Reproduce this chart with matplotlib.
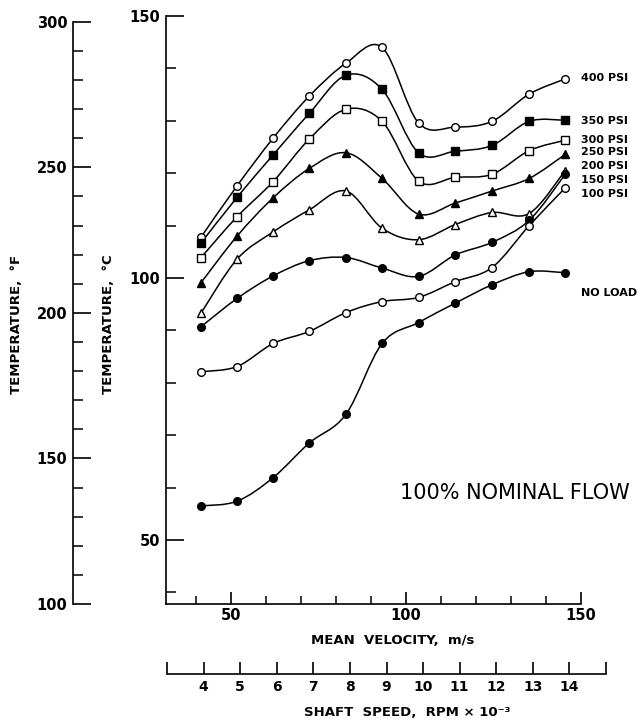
import numpy as np
import matplotlib.pyplot as plt
from matplotlib.path import Path
from matplotlib.patches import PathPatch
from matplotlib.ticker import MultipleLocator

# shaft speed (RPM x 10^-3) and mean velocity (m/s) of the test points
shaft_speed = [4, 5, 6, 7, 8, 9, 10, 11, 12, 13, 14]
velocity = [41.5, 51.8, 62.1, 72.4, 82.9, 93.2, 103.6, 114.1, 124.6, 135.2, 145.5]

# temperatures in deg C
t_400 = [107.8, 117.6, 126.7, 134.7, 141.0, 144.0, 129.6, 128.8, 129.9, 135.1, 138.0]
t_350 = [106.7, 115.4, 123.5, 131.4, 138.7, 136.0, 123.9, 124.2, 125.3, 129.9, 130.1]
t_300 = [103.9, 111.7, 118.4, 126.5, 132.2, 129.9, 118.5, 119.2, 119.8, 124.3, 126.3]
t_250 = [99.1, 108.0, 115.3, 120.9, 123.9, 119.0, 112.2, 114.3, 116.6, 119.0, 123.6]
t_200 = [93.3, 103.6, 108.8, 113.0, 116.6, 109.5, 107.3, 110.2, 112.5, 112.3, 120.5]
t_150 = [90.7, 96.1, 100.4, 103.3, 103.9, 101.9, 100.3, 104.4, 106.8, 111.0, 119.8]
t_100 = [82.1, 83.1, 87.5, 89.8, 93.4, 95.5, 96.3, 99.3, 102.0, 110.0, 117.2]
t_noload = [56.5, 57.4, 61.9, 68.5, 74.0, 87.5, 91.5, 95.2, 98.7, 101.2, 101.0]

series = [t_400, t_350, t_300, t_250, t_200, t_150, t_100, t_noload]
markers = ['o', 's', 's', '^', '^', 'o', 'o', 'o']
filled = [False, True, False, True, False, True, False, True]
labels = ['400 PSI', '350 PSI', '300 PSI', '250 PSI', '200 PSI', '150 PSI', '100 PSI', 'NO LOAD']
label_y = [78, 121, 140, 152, 166, 180, 194, 293]  # pixel rows of the end labels

W, H = 643, 724
fig = plt.figure(figsize=(W / 100, H / 100), dpi=100)
fig.patch.set_facecolor('white')

c_lim = (37.78, 150)
ax_l, ax_r, ax_t, ax_b = 166, 581, 16, 604
ax = fig.add_axes([ax_l / W, 1 - ax_b / H, (ax_r - ax_l) / W, (ax_b - ax_t) / H])
ax.set_xlim(31.5, 150)
ax.set_ylim(*c_lim)
for s in ['top', 'right']:
    ax.spines[s].set_visible(False)
for s in ['left', 'bottom']:
    ax.spines[s].set_linewidth(1.2)
ax.xaxis.set_major_locator(MultipleLocator(50))
ax.xaxis.set_minor_locator(MultipleLocator(10))
ax.yaxis.set_major_locator(MultipleLocator(50))
ax.yaxis.set_minor_locator(MultipleLocator(10))
ax.tick_params(axis='y', which='major', direction='in', length=13, width=1.2, labelsize=10.5, pad=4)
ax.tick_params(axis='y', which='minor', direction='in', length=7, width=1.1)
ax.tick_params(axis='x', which='major', direction='in', length=9, width=1.2, labelsize=10.5, pad=3)
ax.tick_params(axis='x', which='minor', direction='in', length=6, width=1.1)
for t in ax.get_xticklabels() + ax.get_yticklabels():
    t.set_fontweight('bold')


def smooth_path(xs, ys):
    pts = np.column_stack([xs, ys])
    ext = np.vstack([pts[0], pts, pts[-1]])
    verts = [pts[0]]
    codes = [Path.MOVETO]
    for i in range(1, len(ext) - 2):
        p0, p1, p2, p3 = ext[i - 1], ext[i], ext[i + 1], ext[i + 2]
        verts += [p1 + (p2 - p0) / 6, p2 - (p3 - p1) / 6, p2]
        codes += [Path.CURVE4] * 3
    return Path(verts, codes)


for ys, m, f in zip(series, markers, filled):
    ax.add_patch(PathPatch(smooth_path(velocity, ys), fill=False, edgecolor='black', lw=1.1, zorder=2))
    ax.plot(velocity, ys, linestyle='none', marker=m, markersize=5.5 if m == 'o' else 6,
            markerfacecolor='black' if f else 'white', markeredgecolor='black',
            markeredgewidth=1.0, zorder=3, clip_on=False)

for lab, py in zip(labels, label_y):
    fig.text(581 / W, 1 - py / H, lab, ha='left', va='center', fontsize=8, fontweight='bold')

fig.text(515 / W, 1 - 493 / H, '100% NOMINAL FLOW', ha='center', va='center', fontsize=15)

# Fahrenheit scale on the far left
axf = fig.add_axes([73 / W, 1 - ax_b / H, 0.02, (ax_b - ax_t) / H])
axf.set_ylim(c_lim[0] * 1.8 + 32, c_lim[1] * 1.8 + 32)
axf.patch.set_visible(False)
for s in ['top', 'right', 'bottom']:
    axf.spines[s].set_visible(False)
axf.spines['left'].set_bounds(100, 300)
axf.spines['left'].set_linewidth(1.2)
axf.set_xticks([])
axf.yaxis.set_major_locator(MultipleLocator(50))
axf.yaxis.set_minor_locator(MultipleLocator(10))
axf.set_yticks([100, 150, 200, 250, 300])
axf.tick_params(axis='y', which='major', direction='in', length=13, width=1.2, labelsize=10.5, pad=4)
axf.tick_params(axis='y', which='minor', direction='in', length=7, width=1.1)
for t in axf.get_yticklabels():
    t.set_fontweight('bold')

# shaft speed scale under the chart
rpm_ticks = list(range(3, 16))
axr = fig.add_axes([167 / W, 1 - 674 / H, 439 / W, 0.0001])
axr.set_xlim(3, 15)
axr.patch.set_visible(False)
for s in ['top', 'right', 'left']:
    axr.spines[s].set_visible(False)
axr.spines['bottom'].set_linewidth(1.2)
axr.set_yticks([])
axr.set_xticks(rpm_ticks)
axr.set_xticklabels([str(k) if k in shaft_speed else '' for k in rpm_ticks])
axr.tick_params(axis='x', direction='in', length=9, width=1.2, labelsize=10, pad=4)
for t in axr.get_xticklabels():
    t.set_fontweight('bold')

fig.text(17 / W, 1 - 324 / H, 'TEMPERATURE,  °F', rotation=90, ha='center', va='center',
         fontsize=9.5, fontweight='bold')
fig.text(109 / W, 1 - 324 / H, 'TEMPERATURE,  °C', rotation=90, ha='center', va='center',
         fontsize=9.5, fontweight='bold')
fig.text(393 / W, 1 - 641 / H, 'MEAN  VELOCITY,  m/s', ha='center', va='center',
         fontsize=9.5, fontweight='bold')
fig.text(407 / W, 1 - 712 / H, 'SHAFT  SPEED,  RPM × 10⁻³', ha='center', va='center',
         fontsize=9.5, fontweight='bold')

fig.savefig('out.png', dpi=100, facecolor='white')
